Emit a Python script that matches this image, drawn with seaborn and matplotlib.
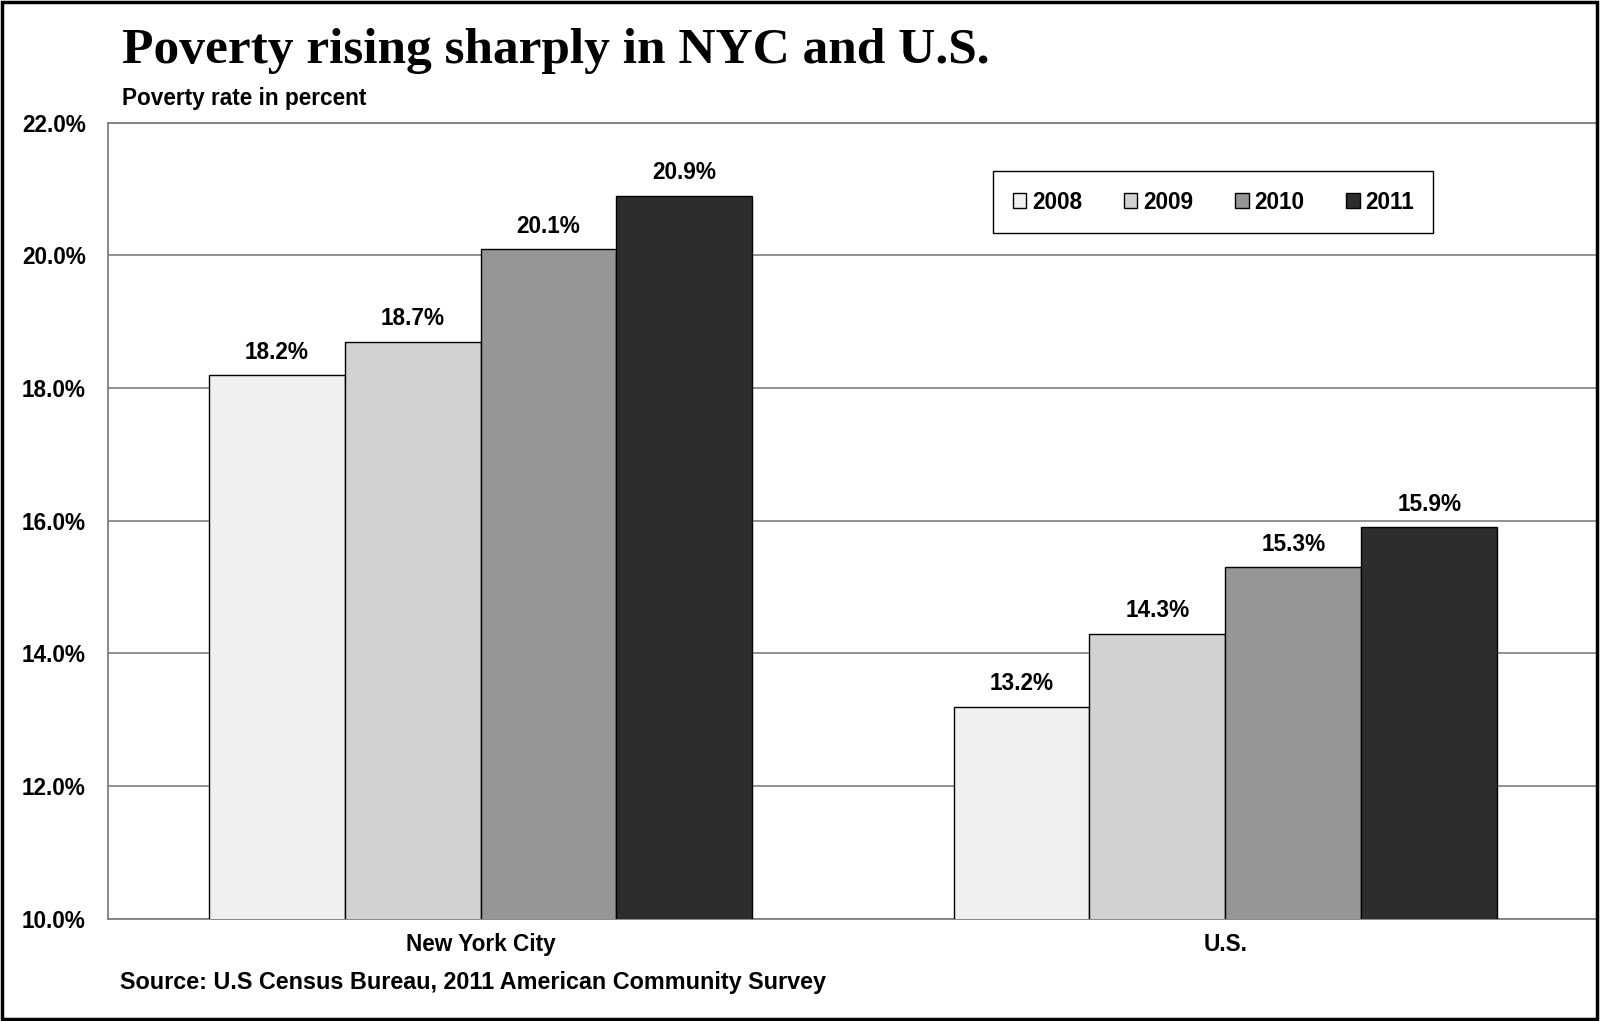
import matplotlib as mpl
mpl.use("Agg")
import matplotlib.pyplot as plt
import matplotlib.patches as mpatches
import pandas as pd
import seaborn as sns

regions = ["New York City", "U.S."]
years = ["2008", "2009", "2010", "2011"]
nyc_rates = [18.2, 18.7, 20.1, 20.9]
us_rates = [13.2, 14.3, 15.3, 15.9]
year_colors = ["#f0f0f0", "#d2d2d2", "#969696", "#2d2d2d"]
y_ticks = [10, 12, 14, 16, 18, 20, 22]

rows = []
for region, rates in zip(regions, [nyc_rates, us_rates]):
    for yr, r in zip(years, rates):
        rows.append({"region": region, "year": yr, "rate": r})
df = pd.DataFrame(rows)

sns.set_theme(style="white")
plt.rcParams['font.family'] = ['Liberation Sans', 'DejaVu Sans']
plt.rcParams['text.color'] = 'black'
plt.rcParams['xtick.color'] = 'black'
plt.rcParams['ytick.color'] = 'black'

fig = plt.figure(figsize=(16, 10.21), dpi=100)
ax = fig.add_axes([0.0676, 0.10, 0.931, 0.78])

sns.barplot(data=df, x="region", y="rate", hue="year", order=regions,
            hue_order=years, palette=dict(zip(years, year_colors)),
            width=0.73, edgecolor="black", linewidth=1.0, ax=ax, zorder=3)

ax.set_ylim(10, 22)
ax.set_yticks(y_ticks)
ax.set_yticklabels(["%.1f%%" % t for t in y_ticks])
ax.yaxis.grid(True, color="#7f7f7f", linewidth=1.2, zorder=0)
ax.set_axisbelow(True)
ax.set_xlabel("")
ax.set_ylabel("")
ax.tick_params(axis="both", length=0, labelsize=16.3)
ax.tick_params(axis="y", pad=16)
ax.tick_params(axis="x", pad=10)
for lbl in ax.get_xticklabels() + ax.get_yticklabels():
    lbl.set_fontweight("bold")
for side in ["left", "top", "bottom", "right"]:
    ax.spines[side].set_color("#7f7f7f")
    ax.spines[side].set_linewidth(1.3)
ax.spines["right"].set_visible(False)

for cont in ax.containers:
    ax.bar_label(cont, fmt="%.1f%%", padding=8, fontsize=16.3, fontweight="bold")

handles, labels = ax.get_legend_handles_labels()
ax.legend(handles, labels, ncol=4, loc="center", bbox_to_anchor=(0.742, 0.9),
          frameon=True, fancybox=False, edgecolor="black", framealpha=1,
          handlelength=0.6, handleheight=0.6, handletextpad=0.25,
          columnspacing=1.85, borderpad=0.85, prop={"weight": "bold", "size": 16.3})

fig.text(0.0765, 0.95, "Poverty rising sharply in NYC and U.S.",
         family=["Liberation Serif", "DejaVu Serif"], fontweight="bold",
         fontsize=37, va="center", ha="left")
fig.text(0.0765, 0.904, "Poverty rate in percent", fontsize=16.3,
         fontweight="bold", va="center", ha="left")
fig.text(0.0752, 0.038, "Source: U.S Census Bureau, 2011 American Community Survey",
         fontsize=16.8, fontweight="bold", va="center", ha="left")

fig.patches.append(mpatches.Rectangle((0.001, 0.002), 0.997, 0.996,
                                      transform=fig.transFigure, fill=False,
                                      edgecolor="black", linewidth=2.5))

fig.savefig("out.png", dpi=100)
